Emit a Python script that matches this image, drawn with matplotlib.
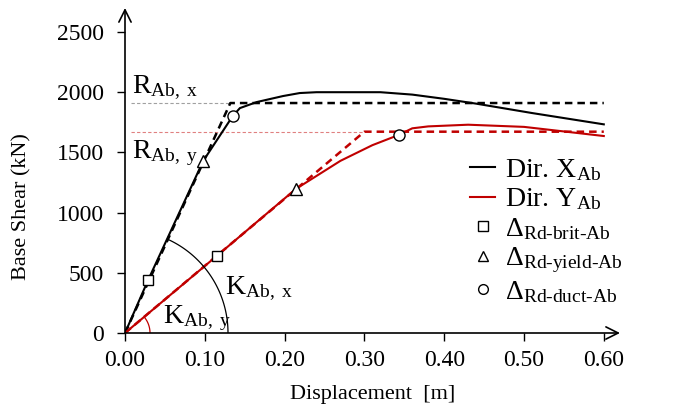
import numpy as np
import matplotlib
matplotlib.use("Agg")
import matplotlib.pyplot as plt
from matplotlib.lines import Line2D

plt.rcParams['font.family'] = ['Liberation Serif', 'DejaVu Serif']
plt.rcParams['mathtext.fontset'] = 'custom'
plt.rcParams['mathtext.rm'] = 'Liberation Serif'
plt.rcParams['mathtext.it'] = 'Liberation Serif:italic'
plt.rcParams['mathtext.bf'] = 'Liberation Serif:bold'

# =============================
# DATA
# =============================
# Dir. X pushover curve
disp_x = [0.0, 0.029, 0.098, 0.135, 0.144, 0.165, 0.198, 0.219, 0.24, 0.32, 0.36, 0.40, 0.44, 0.51, 0.60]
shear_x = [0, 440, 1429, 1802, 1868, 1918, 1968, 1993, 2000, 2000, 1980, 1945, 1905, 1827, 1733]
# Dir. Y pushover curve
disp_y = [0.0, 0.115, 0.214, 0.27, 0.31, 0.343, 0.36, 0.38, 0.43, 0.50, 0.60]
shear_y = [0, 640, 1196, 1430, 1560, 1645, 1700, 1716, 1730, 1712, 1636]

# bilinear idealisations
bil_disp_x = [0.0, 0.132, 0.60]
bil_shear_x = [0, 1910, 1910]
bil_disp_y = [0.0, 0.30, 0.60]
bil_shear_y = [0, 1672, 1672]

# limit-state points (X, Y)
brit_d = [0.029, 0.115]
brit_v = [440, 640]
yield_d = [0.098, 0.214]
yield_v = [1429, 1196]
duct_d = [0.135, 0.343]
duct_v = [1802, 1645]

xticks = [0.0, 0.1, 0.2, 0.3, 0.4, 0.5, 0.6]
yticks = [0, 500, 1000, 1500, 2000, 2500]

RED = '#c00000'

# layout in pixels
X0, Y0 = 125, 333          # origin
PX_M = 798                 # px per metre
PX_KN = 0.1204             # px per kN
AX_W, AX_H = 495, 325

fig = plt.figure(figsize=(6.84, 4.12), dpi=100)
ax = fig.add_axes([X0 / 684, 1 - Y0 / 412, AX_W / 684, AX_H / 412])
ax.set_xlim(0, AX_W / PX_M)
ax.set_ylim(0, AX_H / PX_KN)

# R reference lines (dotted)
ax.plot([0.007, bil_disp_x[1]], [bil_shear_x[1]] * 2, color='#a0a0a0', lw=0.8, ls=(0, (3, 2)))
ax.plot([0.007, bil_disp_y[1]], [bil_shear_y[1]] * 2, color='#e08080', lw=0.8, ls=(0, (3, 2)))

# idealised curves
ax.plot(bil_disp_x, bil_shear_x, color='k', lw=1.8, ls=(0, (3, 2)))
ax.plot(bil_disp_y, bil_shear_y, color=RED, lw=1.8, ls=(0, (3, 2)))

# capacity curves
ax.plot(disp_x, shear_x, color='k', lw=1.5)
ax.plot(disp_y, shear_y, color=RED, lw=1.5)

mk = dict(ls='none', mfc='white', mec='k', mew=1.0, zorder=5)
ax.plot(brit_d, brit_v, marker='s', ms=7.5, **mk)
ax.plot(yield_d, yield_v, marker='^', ms=8.5, **mk)
ax.plot(duct_d, duct_v, marker='o', ms=8, **mk)

# stiffness arcs (radius in pixels -> data units)
def stiffness_arc(slope, r_px, color):
    rx = r_px / PX_M
    ry = r_px / PX_KN
    t_end = np.arctan(slope * rx / ry)
    t = np.linspace(0, t_end, 60)
    ax.plot(rx * np.cos(t), ry * np.sin(t), color=color, lw=0.9)

stiffness_arc(shear_x[2] / disp_x[2], 103, 'k')
stiffness_arc(shear_y[1] / disp_y[1], 25, RED)

fs = 20
ax.text(0.009, 1991, r'R$_{\mathrm{Ab,\ x}}$', fontsize=fs, va='baseline')
ax.text(0.009, 1453, r'R$_{\mathrm{Ab,\ y}}$', fontsize=fs, va='baseline')
ax.text(0.125, 324, r'K$_{\mathrm{Ab,\ x}}$', fontsize=fs, va='baseline')
ax.text(0.048, 86, r'K$_{\mathrm{Ab,\ y}}$', fontsize=fs, va='baseline')

# axes with arrows
for s in ['top', 'right', 'left', 'bottom']:
    ax.spines[s].set_visible(False)
ax.annotate('', xy=(1, 0), xytext=(0, 0), xycoords='axes fraction',
            arrowprops=dict(arrowstyle='->', lw=1.2, color='k', mutation_scale=22, shrinkA=0, shrinkB=0))
ax.annotate('', xy=(0, 1.0), xytext=(0, 0), xycoords='axes fraction',
            arrowprops=dict(arrowstyle='->', lw=1.2, color='k', mutation_scale=22, shrinkA=0, shrinkB=0))

ax.set_xticks(xticks)
ax.set_xticklabels([f'{v:.2f}' for v in xticks])
ax.set_yticks(yticks)
ax.set_yticklabels([str(v) for v in yticks])
ax.tick_params(axis='both', direction='out', length=6, width=1.0, labelsize=17)
ax.tick_params(axis='x', pad=6)
ax.tick_params(axis='y', pad=9)

ax.set_xlabel('Displacement  [m]', fontsize=16, va='top')
ax.set_ylabel('Base Shear (kN)', fontsize=16)
ax.yaxis.set_label_coords(-0.188, 0.39)
ax.xaxis.set_label_coords(0.5, -0.16)

handles = [
    Line2D([], [], color='k', lw=1.5),
    Line2D([], [], color=RED, lw=1.5),
    Line2D([], [], marker='s', ms=7, **mk),
    Line2D([], [], marker='^', ms=7, **mk),
    Line2D([], [], marker='o', ms=7, **mk),
]
labels = [
    r'Dir. X$_{\mathrm{Ab}}$',
    r'Dir. Y$_{\mathrm{Ab}}$',
    r'$\Delta_{\mathrm{Rd\text{-}brit\text{-}Ab}}$',
    r'$\Delta_{\mathrm{Rd\text{-}yield\text{-}Ab}}$',
    r'$\Delta_{\mathrm{Rd\text{-}duct\text{-}Ab}}$',
]
ax.legend(handles, labels, loc='upper left', bbox_to_anchor=((470 - X0) / AX_W, 1 - (157 - 8) / AX_H),
          frameon=False, fontsize=fs, handlelength=0.9, handletextpad=0.35,
          labelspacing=0.13, borderpad=0, borderaxespad=0)

fig.savefig('out.png', dpi=100)
